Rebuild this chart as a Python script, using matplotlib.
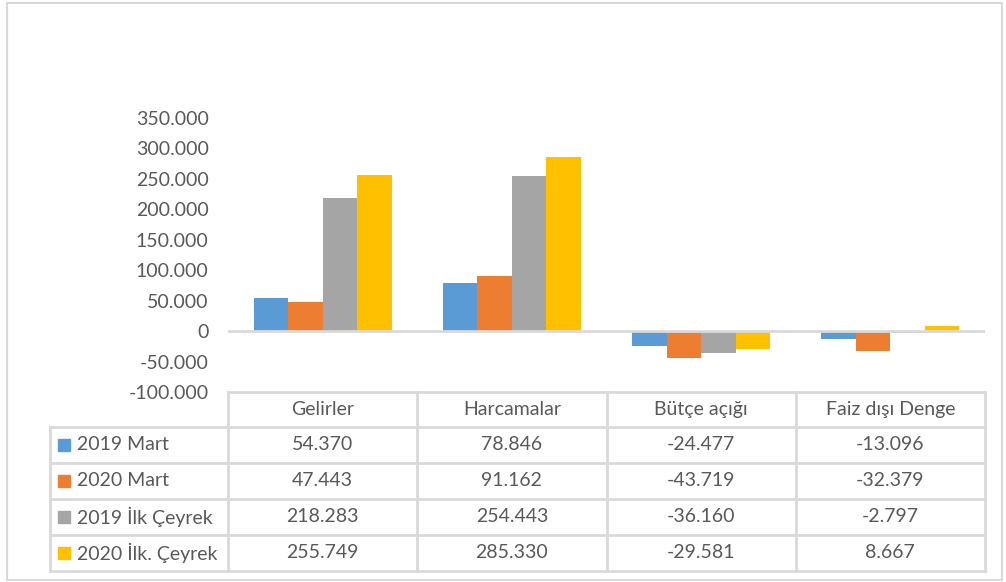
import matplotlib.pyplot as plt
import matplotlib.transforms as mtransforms
from matplotlib.patches import Rectangle
import numpy as np

plt.rcParams['font.family'] = ['Lato', 'DejaVu Sans']

categories = ['Gelirler', 'Harcamalar', 'Bütçe açığı', 'Faiz dışı Denge']
series_names = ['2019 Mart', '2020 Mart', '2019 İlk Çeyrek', '2020 İlk. Çeyrek']
mart_2019 = [54370, 78846, -24477, -13096]
mart_2020 = [47443, 91162, -43719, -32379]
ceyrek_2019 = [218283, 254443, -36160, -2797]
ceyrek_2020 = [255749, 285330, -29581, 8667]
series_values = [mart_2019, mart_2020, ceyrek_2019, ceyrek_2020]
colors = ['#5B9BD5', '#ED7D31', '#A5A5A5', '#FFC000']
yticks = [-100000, -50000, 0, 50000, 100000, 150000, 200000, 250000, 300000, 350000]

W, H = 1006, 582
txt = '#595959'
grid = '#D9D9D9'

fig = plt.figure(figsize=(W / 100, H / 100), dpi=100)
ax = fig.add_axes([228 / W, 1 - 392 / H, (985 - 228) / W, (392 - 118) / H])

x = np.arange(len(categories))
bw = 0.1825
for i, vals in enumerate(series_values):
    ax.bar(x + (i - 1.5) * bw, vals, bw, color=colors[i], zorder=2)

ax.set_xlim(-0.5, len(categories) - 0.5)
ax.set_ylim(-100000, 350000)
ax.set_yticks(yticks)
ax.set_yticklabels(['0' if v == 0 else f'{v:,}'.replace(',', '.') for v in yticks])
ax.tick_params(axis='y', length=0, labelsize=14, colors=txt, pad=14)
ax.set_xticks([])
for s in ax.spines.values():
    s.set_visible(False)
ax.axhline(0, color=grid, lw=2, zorder=3)

# data table under the chart
tr = mtransforms.blended_transform_factory(ax.transData, fig.transFigure)
ftr = fig.transFigure


def fy(py):
    return 1 - py / H


row_edges = [392, 427, 463, 499, 535, 571]
lab_left = 50 / W
bounds = np.arange(len(categories) + 1) - 0.5
lw = 2

# horizontal lines
ax.plot([bounds[0], bounds[-1]], [fy(row_edges[0])] * 2, transform=tr, color=grid,
        lw=lw, clip_on=False)
for py in row_edges[1:]:
    fig.add_artist(plt.Line2D([lab_left, 985 / W], [fy(py)] * 2, color=grid, lw=lw))
# vertical lines
for b in bounds:
    ax.plot([b, b], [fy(row_edges[0]), fy(row_edges[-1])], transform=tr, color=grid,
            lw=lw, clip_on=False)
fig.add_artist(plt.Line2D([lab_left, lab_left], [fy(row_edges[1]), fy(row_edges[-1])],
                          color=grid, lw=lw))

fs = 14
for j, c in enumerate(categories):
    ax.text(x[j], fy((row_edges[0] + row_edges[1]) / 2), c, transform=tr, ha='center',
            va='center', fontsize=fs, color=txt)

for i, name in enumerate(series_names):
    yc = fy((row_edges[i + 1] + row_edges[i + 2]) / 2)
    fig.add_artist(Rectangle((58 / W, yc - 6 / H), 12 / W, 12 / H, color=colors[i],
                             transform=ftr))
    fig.text(77 / W, yc, name, ha='left', va='center', fontsize=fs, color=txt)
    for j, v in enumerate(series_values[i]):
        ax.text(x[j], yc, f'{v:,}'.replace(',', '.'), transform=tr, ha='center',
                va='center', fontsize=fs, color=txt)

# chart area border
fig.add_artist(Rectangle((7 / W, 2 / H), 995 / W, 577 / H, fill=False, edgecolor=grid,
                         lw=1.5, transform=ftr))

fig.savefig('out.png', dpi=100)
